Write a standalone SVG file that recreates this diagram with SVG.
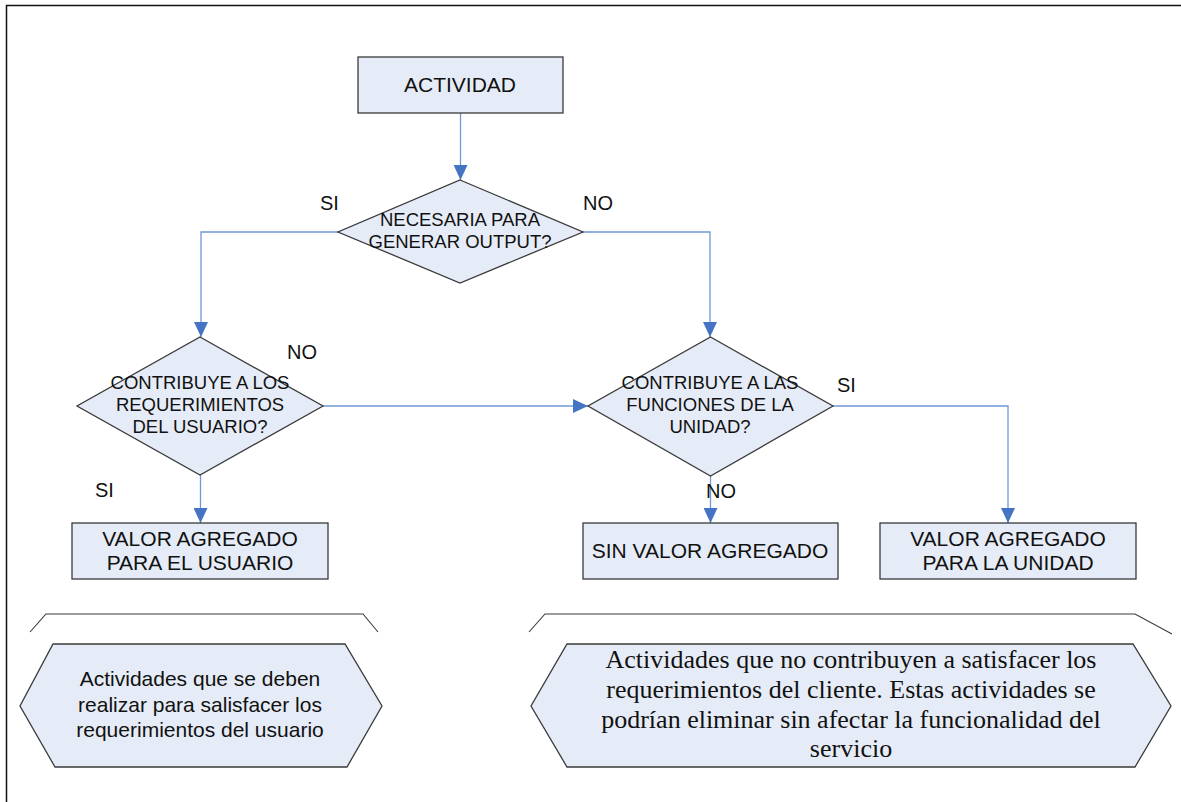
<svg xmlns="http://www.w3.org/2000/svg" width="1181" height="802" viewBox="0 0 1181 802">
  <style>
    .shape { fill: #e6ecf7; stroke: #3a3a3a; stroke-width: 1.3; }
    .wire { fill: none; stroke: #6f98d6; stroke-width: 1.3; }
    .bracket { fill: none; stroke: #3a3a3a; stroke-width: 1.1; }
    .sans { font-family: "Liberation Sans", Arial, sans-serif; fill: #111; }
    .serif { font-family: "Liberation Serif", "Times New Roman", serif; fill: #111; font-size: 26px; text-anchor: middle; }
    .q { font-size: 18.5px; text-anchor: middle; }
    .b { font-size: 21px; text-anchor: middle; }
    .lbl { font-size: 20px; }
    .note { font-size: 21px; text-anchor: middle; }
  </style>
  <defs>
    <marker id="arrow" markerUnits="userSpaceOnUse" markerWidth="15" markerHeight="14" refX="15" refY="7" orient="auto">
      <path d="M0,0 L15,7 L0,14 Z" fill="#4674c4"/>
    </marker>
  </defs>

  <rect x="0" y="0" width="1181" height="802" fill="#ffffff"/>
  <!-- page frame -->
  <path d="M6.5,802 V5.5 H1181" fill="none" stroke="#111" stroke-width="1.5"/>

  <!-- connectors -->
  <g id="connectors">
    <path class="wire" d="M460.5,113 V180" marker-end="url(#arrow)"/>
    <path class="wire" d="M338,232 H201 V337" marker-end="url(#arrow)"/>
    <path class="wire" d="M583,232 H710 V337" marker-end="url(#arrow)"/>
    <path class="wire" d="M323,406 H588" marker-end="url(#arrow)"/>
    <path class="wire" d="M833,406 H1008 V523" marker-end="url(#arrow)"/>
    <path class="wire" d="M710.5,476 V523" marker-end="url(#arrow)"/>
    <path class="wire" d="M200.5,475 V523" marker-end="url(#arrow)"/>
  </g>

  <!-- branch labels -->
  <g id="labels" class="sans lbl">
    <text x="320" y="210">SI</text>
    <text x="583" y="210">NO</text>
    <text x="287" y="359">NO</text>
    <text x="95" y="497">SI</text>
    <text x="837" y="392">SI</text>
    <text x="706" y="498">NO</text>
  </g>

  <g id="actividad">
    <rect class="shape" x="358" y="57" width="205" height="56"/>
    <text class="sans b" x="460" y="92">ACTIVIDAD</text>
  </g>

  <g id="necesaria">
    <polygon class="shape" points="460,180 583,232 460,283 338,232"/>
    <text class="sans q" x="460" y="226">NECESARIA PARA</text>
    <text class="sans q" x="460" y="248">GENERAR OUTPUT?</text>
  </g>

  <g id="contribuye-usuario">
    <polygon class="shape" points="200,337 323,406 200,475 77,406"/>
    <text class="sans q" x="200" y="389">CONTRIBUYE A LOS</text>
    <text class="sans q" x="200" y="411">REQUERIMIENTOS</text>
    <text class="sans q" x="200" y="433">DEL USUARIO?</text>
  </g>

  <g id="contribuye-unidad">
    <polygon class="shape" points="710.5,337 833,406 710.5,476 588,406"/>
    <text class="sans q" x="710" y="389">CONTRIBUYE A LAS</text>
    <text class="sans q" x="710" y="411">FUNCIONES DE LA</text>
    <text class="sans q" x="710" y="433">UNIDAD?</text>
  </g>

  <g id="valor-usuario">
    <rect class="shape" x="72" y="523" width="256" height="56"/>
    <text class="sans b" x="200" y="546">VALOR AGREGADO</text>
    <text class="sans b" x="200" y="570">PARA EL USUARIO</text>
  </g>

  <g id="sin-valor">
    <rect class="shape" x="583" y="523" width="255" height="56"/>
    <text class="sans b" x="710" y="558">SIN VALOR AGREGADO</text>
  </g>

  <g id="valor-unidad">
    <rect class="shape" x="880" y="523" width="256" height="56"/>
    <text class="sans b" x="1008" y="546">VALOR AGREGADO</text>
    <text class="sans b" x="1008" y="570">PARA LA UNIDAD</text>
  </g>

  <!-- group brackets -->
  <path class="bracket" d="M30,632 L46,614 H363 L378,632"/>
  <path class="bracket" d="M529,632 L545,614 H1135 L1172,634"/>

  <g id="nota-valor">
    <polygon class="shape" points="53,644 345,644 382,706 347,767 55,767 20,706"/>
    <text class="sans note" x="200" y="686">Actividades que se deben</text>
    <text class="sans note" x="200" y="712">realizar para salisfacer los</text>
    <text class="sans note" x="200" y="737">requerimientos del usuario</text>
  </g>

  <g id="nota-sin-valor">
    <polygon class="shape" points="567,644 1133,644 1171,706 1135,767 567,767 531,706"/>
    <text class="serif" x="851" y="668">Actividades que no contribuyen a satisfacer los</text>
    <text class="serif" x="851" y="698">requerimientos del cliente. Estas actividades se</text>
    <text class="serif" x="851" y="728">podrían eliminar sin afectar la funcionalidad del</text>
    <text class="serif" x="851" y="757">servicio</text>
  </g>
</svg>
